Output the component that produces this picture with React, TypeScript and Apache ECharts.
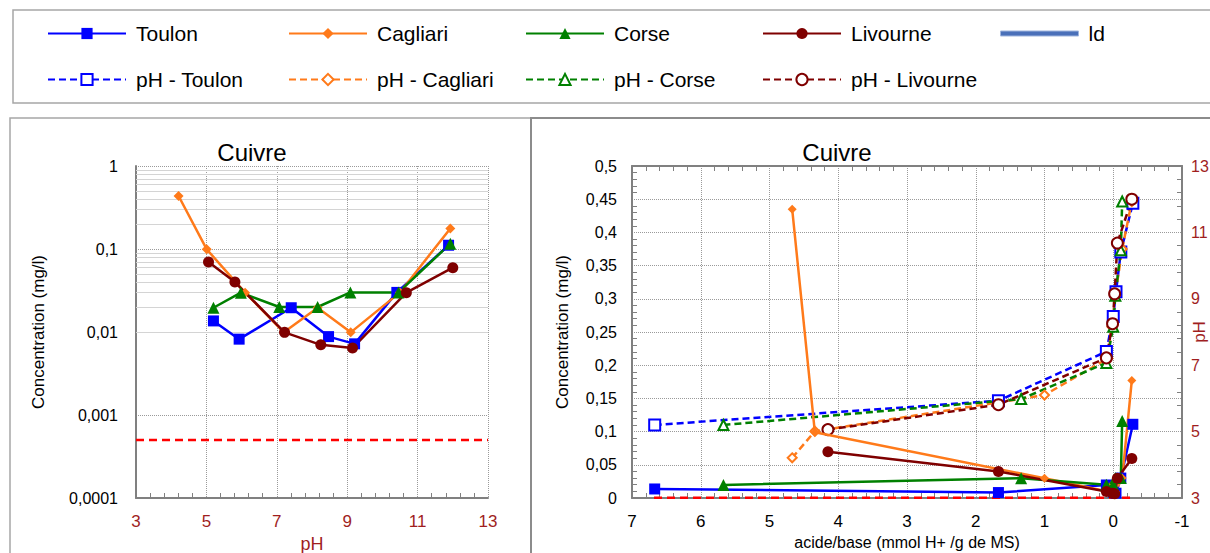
import React, { useEffect, useRef } from "react";
import * as echarts from "echarts";

// ---- data ----
const toulonPH = [5.2, 5.93, 7.41, 8.47, 9.21, 10.41, 11.88];
const toulonConc = [0.0136, 0.0082, 0.0196, 0.0088, 0.0072, 0.03, 0.111];
const toulonAB = [6.67, 1.67, 0.1, 0.0, -0.04, -0.11, -0.285];

const cagliariPH = [4.21, 5.01, 6.1, 7.2, 8.16, 9.1, 10.5, 11.93];
const cagliariConc = [0.435, 0.099, 0.0298, 0.0099, 0.0196, 0.0099, 0.03, 0.177];
const cagliariAB = [4.67, 4.34, 1.0, 0.08, 0.02, -0.03, -0.13, -0.27];

const corsePH = [5.2, 5.98, 7.07, 8.16, 9.09, 10.46, 11.93];
const corseConc = [0.0196, 0.0298, 0.02, 0.02, 0.03, 0.03, 0.116];
const corseAB = [5.67, 1.34, 0.1, 0.0, -0.03, -0.11, -0.13];

const livournePH = [5.06, 5.81, 7.22, 8.25, 9.15, 10.68, 12.0];
const livourneConc = [0.0697, 0.04, 0.0099, 0.007, 0.0064, 0.0298, 0.0596];
const livourneAB = [4.15, 1.67, 0.1, 0.01, -0.02, -0.06, -0.27];

const ldValue = 0.0005;
const ldPHRange = [3, 13];
const ldABRange = [6.68, -0.27];

const logMinorGrid = [
  0.0002, 0.0003, 0.0004, 0.0005, 0.0006, 0.0007, 0.0008, 0.0009,
  0.002, 0.003, 0.004, 0.005, 0.006, 0.007, 0.008, 0.009,
  0.02, 0.03, 0.04, 0.05, 0.06, 0.07, 0.08, 0.09,
  0.2, 0.3, 0.4, 0.5, 0.6, 0.7, 0.8, 0.9,
];

const legendRow1 = ["Toulon", "Cagliari", "Corse", "Livourne", "ld"];
const legendRow2 = ["pH - Toulon", "pH - Cagliari", "pH - Corse", "pH - Livourne"];

// ---- styling ----
const NARROW = "'Liberation Sans Narrow', 'Arial Narrow', 'Liberation Sans', Arial, sans-serif";
const SANS = "'Liberation Sans', Arial, sans-serif";
const DARKRED = "#a01e1e";
const FRAME = "#808080";
const BLUE = "#0000ff";
const ORANGE = "#ff7a1a";
const GREEN = "#008000";
const MAROON = "#7f0000";

const zip = (xs: number[], ys: number[]) => xs.map((x, i) => [x, ys[i]]);

export default function App() {
  const ref = useRef<HTMLDivElement>(null);

  useEffect(() => {
    if (!ref.current) return;
    const chart = echarts.init(ref.current, undefined, { renderer: "svg" });

    const solid = (name: string, color: string, symbol: string, size: number, data: number[][], xi: number, yi: number) => ({
      name,
      type: "line",
      xAxisIndex: xi,
      yAxisIndex: yi,
      data,
      symbol,
      symbolSize: size,
      showSymbol: true,
      lineStyle: { color, width: 2.5 },
      itemStyle: { color },
      z: 4,
    });
    const dashed = (name: string, color: string, symbol: string, size: number, data: number[][]) => ({
      name,
      type: "line",
      xAxisIndex: 1,
      yAxisIndex: 2,
      data,
      symbol,
      symbolSize: size,
      showSymbol: true,
      lineStyle: { color, width: 2.5, type: [7, 4] },
      itemStyle: { color, borderColor: color, borderWidth: 1.5 },
      z: 3,
    });

    const legendCols = [47, 288, 525, 762, 1000];
    const legendText = { fontSize: 21, fontFamily: SANS, color: "#000", padding: [0, 0, 0, 5] };
    const legends: any[] = [];
    legendRow1.forEach((n, i) => {
      if (n === "ld") {
        legends.push({
          left: legendCols[i],
          top: 34 - 11,
          padding: 0,
          itemWidth: 78,
          itemHeight: 5,
          data: [{ name: n, icon: "rect", itemStyle: { color: "#4a70b9", borderColor: "#9fb5de", borderWidth: 1 } }],
          textStyle: legendText,
        });
      } else {
        legends.push({
          left: legendCols[i],
          top: 34 - 11,
          padding: 0,
          itemWidth: 78,
          itemHeight: 14,
          data: [n],
          textStyle: legendText,
        });
      }
    });
    legendRow2.forEach((n, i) => {
      legends.push({
        left: legendCols[i],
        top: 80 - 11,
        padding: 0,
        itemWidth: 78,
        itemHeight: 14,
        data: [n],
        textStyle: legendText,
      });
    });

    const axisLine = { show: true, onZero: false, lineStyle: { color: FRAME, width: 2 } };
    const gridLine = { show: true, lineStyle: { color: "#9a9a9a", type: "dotted", width: 1 } };
    const minor = { show: true, splitNumber: 5, length: 5, lineStyle: { color: FRAME, width: 1 } };

    const commaFmt = (v: number) => {
      const s = parseFloat(Number(v).toPrecision(6)).toString();
      return s.replace(".", ",");
    };

    chart.setOption({
      animation: false,
      backgroundColor: "#ffffff",
      textStyle: { fontFamily: NARROW },
      legend: legends,
      graphic: [
        { type: "rect", shape: { x: 13, y: 10, width: 1260, height: 93 }, style: { fill: "none", stroke: "#a6a6a6", lineWidth: 1.5 }, silent: true },
        { type: "rect", shape: { x: 10, y: 118, width: 521, height: 480 }, style: { fill: "none", stroke: "#a6a6a6", lineWidth: 1.5 }, silent: true },
        { type: "rect", shape: { x: 531, y: 118, width: 700, height: 480 }, style: { fill: "none", stroke: "#8c8c8c", lineWidth: 2 }, silent: true },
        { type: "text", x: 252, y: 152, style: { text: "Cuivre", fontSize: 24, fontFamily: NARROW, fill: "#000", align: "center", verticalAlign: "middle" }, silent: true },
        { type: "text", x: 837, y: 152, style: { text: "Cuivre", fontSize: 24, fontFamily: NARROW, fill: "#000", align: "center", verticalAlign: "middle" }, silent: true },
        { type: "text", x: 1199, y: 332, rotation: Math.PI / 2, style: { text: "pH", fontSize: 17, fontFamily: NARROW, fill: DARKRED, align: "center", verticalAlign: "middle" }, silent: true },
      ],
      grid: [
        { left: 136, top: 166, width: 352, height: 332, containLabel: false, outerBoundsMode: "none" },
        { left: 632, top: 166, width: 550, height: 332, containLabel: false, outerBoundsMode: "none" },
      ],
      xAxis: [
        {
          gridIndex: 0, type: "value", min: 3, max: 13, interval: 2, position: "bottom",
          axisLine, axisTick: { show: false, inside: true }, minorTick: minor,
          axisLabel: { color: DARKRED, fontSize: 17, margin: 15, fontFamily: NARROW },
          splitLine: gridLine,
          name: "pH", nameLocation: "middle", nameGap: 35,
          nameTextStyle: { color: DARKRED, fontSize: 18, fontFamily: NARROW },
        },
        {
          gridIndex: 1, type: "value", min: -1, max: 7, interval: 1, inverse: true, position: "bottom",
          axisLine, axisTick: { show: false, inside: true }, minorTick: minor,
          axisLabel: { color: "#000", fontSize: 17, margin: 15, fontFamily: NARROW },
          splitLine: gridLine,
          name: "acide/base (mmol H+ /g de MS)", nameLocation: "middle", nameGap: 36,
          nameTextStyle: { color: "#000", fontSize: 16, fontFamily: NARROW },
        },
        {
          gridIndex: 1, type: "value", min: -1, max: 7, interval: 1, inverse: true, position: "top",
          axisLine, axisTick: { show: false, inside: true }, minorTick: minor,
          axisLabel: { show: false }, splitLine: { show: false },
        },
      ],
      yAxis: [
        {
          gridIndex: 0, type: "log", logBase: 10, min: 0.0001, max: 1, position: "left",
          axisLine, axisTick: { show: false, inside: true },
          axisLabel: { color: "#000", fontSize: 16, margin: 18, fontFamily: NARROW, formatter: commaFmt },
          splitLine: gridLine,
          name: "Concentration (mg/l)", nameLocation: "middle", nameGap: 89,
          nameTextStyle: { color: "#000", fontSize: 17, fontFamily: NARROW },
        },
        {
          gridIndex: 1, type: "value", min: 0, max: 0.5, interval: 0.05, position: "left",
          axisLine, axisTick: { show: false, inside: true }, minorTick: minor,
          axisLabel: { color: "#000", fontSize: 16, margin: 15, fontFamily: NARROW, formatter: (v: number) => commaFmt(Math.round(v * 100) / 100) },
          splitLine: gridLine,
          name: "Concentration (mg/l)", nameLocation: "middle", nameGap: 61,
          nameTextStyle: { color: "#000", fontSize: 17, fontFamily: NARROW },
        },
        {
          gridIndex: 1, type: "value", min: 3, max: 13, interval: 2, position: "right",
          axisLine, axisTick: { show: false, inside: true }, minorTick: minor,
          axisLabel: { color: DARKRED, fontSize: 16, margin: 9, fontFamily: NARROW },
          splitLine: { show: false },
        },
      ],
      series: [
        {
          name: "ld", type: "line", xAxisIndex: 0, yAxisIndex: 0,
          data: ldPHRange.map((x) => [x, ldValue]),
          symbol: "none", lineStyle: { color: "#ff0000", width: 2.5, type: [8, 5] }, itemStyle: { color: "#ff0000" }, z: 3,
          markLine: {
            silent: true, symbol: ["none", "none"], z: 1, label: { show: false },
            lineStyle: { color: "#d4d4d4", width: 1, type: "solid" },
            data: logMinorGrid.map((v) => ({ yAxis: v })),
          },
        },
        solid("Toulon", BLUE, "rect", 11, zip(toulonPH, toulonConc), 0, 0),
        solid("Cagliari", ORANGE, "diamond", 10, zip(cagliariPH, cagliariConc), 0, 0),
        solid("Corse", GREEN, "triangle", 12, zip(corsePH, corseConc), 0, 0),
        solid("Livourne", MAROON, "circle", 11, zip(livournePH, livourneConc), 0, 0),

        dashed("pH - Toulon", BLUE, "emptyRect", 11, zip(toulonAB, toulonPH)),
        dashed("pH - Cagliari", ORANGE, "emptyDiamond", 9, zip(cagliariAB, cagliariPH)),
        dashed("pH - Corse", GREEN, "emptyTriangle", 10, zip(corseAB, corsePH)),
        dashed("pH - Livourne", MAROON, "emptyCircle", 11, zip(livourneAB, livournePH)),

        solid("Toulon", BLUE, "rect", 11, zip(toulonAB, toulonConc), 1, 1),
        solid("Cagliari", ORANGE, "diamond", 9, zip(cagliariAB, cagliariConc), 1, 1),
        solid("Corse", GREEN, "triangle", 12, zip(corseAB, corseConc), 1, 1),
        solid("Livourne", MAROON, "circle", 11, zip(livourneAB, livourneConc), 1, 1),
        {
          name: "ld", type: "line", xAxisIndex: 1, yAxisIndex: 1,
          data: ldABRange.map((x) => [x, ldValue]),
          symbol: "none", lineStyle: { color: "#ff0000", width: 2.5, type: [8, 5] }, itemStyle: { color: "#ff0000" }, z: 3,
        },
      ],
    });

    return () => chart.dispose();
  }, []);

  return (
    <div
      ref={ref}
      style={{ position: "fixed", left: 0, top: 0, width: 1210, height: 553, background: "#fff" }}
    />
  );
}
